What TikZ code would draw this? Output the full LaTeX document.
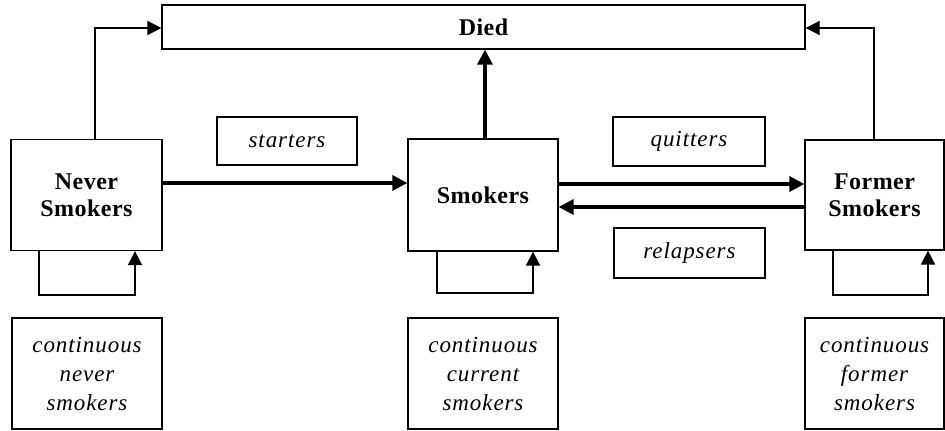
\documentclass[tikz,border=0pt]{standalone}
\usepackage{fontspec}
\setmainfont{Liberation Serif}
\newfontfamily\spacedit[LetterSpace=4]{Liberation Serif}
\newfontfamily\spacedbf[LetterSpace=2]{Liberation Serif}
\usetikzlibrary{arrows.meta}
\begin{document}
\begin{tikzpicture}[x=1pt,y=-1pt,
 box/.style={draw, line width=1.2pt, rectangle, inner sep=0pt, align=center},
 bbox/.style={box, font=\fontsize{24}{27}\selectfont\spacedbf\bfseries},
 ibox/.style={box, font=\fontsize{23}{29}\selectfont\spacedit\itshape},
 thinarr/.style={line width=1.6pt, -{Triangle[length=14pt,width=14pt]}},
 thickarr/.style={line width=3.2pt, -{Triangle[length=15pt,width=15pt]}}]
\useasboundingbox (0,0) rectangle (945,431);
% main state boxes
\node[bbox, minimum width=643pt, minimum height=44pt] (died) at (483.5,27) {Died};
\node[bbox, minimum width=151pt, minimum height=111pt] (never) at (86.5,195) {Never\\Smokers};
\node[bbox, minimum width=150pt, minimum height=112pt] (smokers) at (483,195) {Smokers};
\node[bbox, minimum width=139pt, minimum height=110pt] (former) at (874.5,195) {Former\\Smokers};
% label boxes
\node[ibox, minimum width=140pt, minimum height=48pt] (starters) at (287,141) {starters};
\node[ibox, minimum width=152pt, minimum height=49pt] (quitters) at (689,141.5) {quitters};
\node[ibox, minimum width=151pt, minimum height=50pt] (relapsers) at (689.5,253) {relapsers};
\node[ibox, minimum width=150pt, minimum height=111pt] (cnever) at (87,373.5) {continuous\\never\\smokers};
\node[ibox, minimum width=150pt, minimum height=111pt] (ccurrent) at (483,373.5) {continuous\\current\\smokers};
\node[ibox, minimum width=139pt, minimum height=111pt] (cformer) at (874.5,373.5) {continuous\\former\\smokers};
% transitions to died
\draw[thinarr] (never.north -| 95,0) |- (died.west |- 0,28);
\draw[thinarr] (former.north -| 874,0) |- (died.east |- 0,28);
\draw[thickarr] (smokers.north -| 485,0) -- (died.south -| 485,0);
% between states
\draw[thickarr] (never.east |- 0,183) -- (smokers.west |- 0,183);
\draw[thickarr] (smokers.east |- 0,184) -- (former.west |- 0,184);
\draw[thickarr] (former.west |- 0,207) -- (smokers.east |- 0,207);
% self loops
\draw[thinarr] (never.south -| 39,0) -- (39,295) -- (135,295) -- (never.south -| 135,0);
\draw[thinarr] (smokers.south -| 437,0) -- (437,293) -- (533,293) -- (smokers.south -| 533,0);
\draw[thinarr] (former.south -| 833,0) -- (833,295) -- (928,295) -- (former.south -| 928,0);
\end{tikzpicture}
\end{document}
